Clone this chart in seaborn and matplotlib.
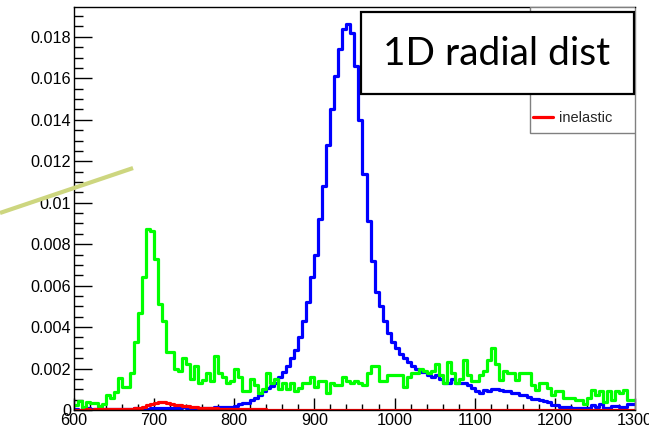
import numpy as np
import pandas as pd
import matplotlib
matplotlib.use("Agg")
import matplotlib.pyplot as plt
import seaborn as sns
from matplotlib.lines import Line2D
from matplotlib.patches import Rectangle
from matplotlib.ticker import MultipleLocator, FixedLocator, FixedFormatter

# bin edges: 600 .. 1300 in steps of 5
bin_edges = list(range(600, 1305, 5))

green_vals = [
    0.00024, 0.00045, 0.00016, 0.00037, 0.00032, 0.00032, 0.00021, 0.00027, 0.00072, 0.00056,
    0.00089, 0.00153, 0.0011, 0.0011, 0.0018, 0.0033, 0.00467, 0.0064, 0.00873, 0.00865,
    0.0073, 0.0051, 0.0043, 0.0028, 0.0028, 0.0020, 0.0019, 0.0025, 0.0022, 0.0015,
    0.0021, 0.0013, 0.00145, 0.0018, 0.0014, 0.0026, 0.0018, 0.0016, 0.0013, 0.0014,
    0.0020, 0.0016, 0.0009, 0.0009, 0.0015, 0.0012, 0.0008, 0.0010, 0.0018, 0.0013,
    0.0015, 0.0010, 0.0013, 0.0010, 0.0013, 0.0009, 0.00105, 0.0013, 0.0013, 0.0016,
    0.0011, 0.0014, 0.0014, 0.0008, 0.0013, 0.0012, 0.0012, 0.0016, 0.0014, 0.0013,
    0.0014, 0.0013, 0.0012, 0.0018, 0.0021, 0.0021, 0.0014, 0.0014, 0.0017, 0.0017,
    0.0017, 0.0017, 0.0011, 0.0016, 0.0018, 0.0018, 0.0020, 0.0019, 0.0018, 0.0019,
    0.0022, 0.0017, 0.0013, 0.0023, 0.0018, 0.0013, 0.0015, 0.0024, 0.0017, 0.0014,
    0.0014, 0.0017, 0.0019, 0.0024, 0.0030, 0.0022, 0.00145, 0.0019, 0.0018, 0.0018,
    0.00145, 0.0018, 0.0018, 0.0018, 0.0012, 0.00097, 0.0013, 0.0013, 0.00105, 0.0007,
    0.0009, 0.0009, 0.00056, 0.00056, 0.0006, 0.0005, 0.0005, 0.0003, 0.0006, 0.00097,
    0.0007, 0.0009, 0.0004, 0.00094, 0.0005, 0.00094, 0.0008, 0.00097, 0.0005, 0.0005,
]

blue_vals = [
    0.00003, 0.00002, 0.00005, 0.00008, 0.00006, 0.00004, 0.00008, 0.00005, 0.00003, 0.00004,
    0.00005, 0.00004, 0.00006, 0.00004, 0.00005, 0.00008, 0.00006, 0.00009, 0.00005, 0.00012,
    0.00010, 0.00008, 0.00010, 0.00012, 0.00008, 0.00010, 0.00012, 0.00013, 0.00010, 0.00012,
    0.00010, 0.00012, 0.00010, 0.00012, 0.00012, 0.00013, 0.00013, 0.00013, 0.00013, 0.00015,
    0.00018, 0.0003, 0.00035, 0.00035, 0.00048, 0.0006, 0.00072, 0.0009, 0.00105, 0.00116,
    0.0013, 0.0016, 0.00185, 0.0021, 0.0025, 0.0029, 0.0035, 0.0043, 0.0052, 0.0064,
    0.0075, 0.0092, 0.0108, 0.0128, 0.0145, 0.0161, 0.0174, 0.0184, 0.0186, 0.0182,
    0.0166, 0.0140, 0.0114, 0.0091, 0.0072, 0.0057, 0.0050, 0.0043, 0.0037, 0.0033,
    0.0030, 0.0027, 0.0025, 0.0023, 0.0021, 0.0020, 0.00185, 0.00185, 0.0017, 0.0016,
    0.0017, 0.0015, 0.0013, 0.0013, 0.0015, 0.0013, 0.0013, 0.0013, 0.0012, 0.00105,
    0.0009, 0.0008, 0.00097, 0.0009, 0.0010, 0.0010, 0.00095, 0.0009, 0.0009, 0.0008,
    0.0008, 0.0007, 0.0007, 0.00064, 0.00053, 0.00053, 0.00048, 0.00045, 0.0004, 0.00024,
    0.00024, 0.00016, 0.00016, 0.00016, 0.00011, 0.00011, 0.00011, 0.00011, 0.00011, 0.00024,
    0.00016, 0.0003, 0.00012, 0.00012, 0.0002, 0.0002, 0.00016, 0.00016, 0.0003, 0.0003,
]

red_vals = [
    0.00002, 0.00002, 0.00002, 0.00003, 0.00002, 0.00003, 0.00003, 0.00003, 0.00004, 0.00004,
    0.00004, 0.00005, 0.00005, 0.00006, 0.00007, 0.00009, 0.00012, 0.00016, 0.00022, 0.00028,
    0.00035, 0.0004, 0.0004, 0.00036, 0.0003, 0.00025, 0.00022, 0.0002, 0.00017, 0.00015,
    0.00013, 0.00012, 0.00011, 0.0001, 0.00009, 0.00008, 0.00007, 0.00006, 0.00006, 0.00005,
    0.00005, 0.00004, 0.00004, 0.00004, 0.00003, 0.00003, 0.00003, 0.00003, 0.00002, 0.00002,
    0.00002, 0.00002, 0.00002, 0.00002, 0.00002, 0.00001, 0.00001, 0.00001, 0.00001, 0.00001,
    0.00001, 0.00001, 0.00001, 0.00001, 0.00001, 0.00001, 0.00001, 0.00001, 0.00001, 0.00001,
    0.00001, 0.00001, 0.00001, 0.00001, 0.00001, 0.00001, 0.00001, 0.00001, 0.00001, 0.00001,
    0.00001, 0.00001, 0.00001, 0.00001, 0.00001, 0.00001, 0.00001, 0.00001, 0.00001, 0.00001,
    0.00001, 0.00001, 0.00001, 0.00001, 0.00001, 0.00001, 0.00001, 0.00001, 0.00001, 0.00001,
    0.00001, 0.00001, 0.00001, 0.00001, 0.00001, 0.00001, 0.00001, 0.00001, 0.00001, 0.00001,
    0.00001, 0.00001, 0.00001, 0.00001, 0.00001, 0.00001, 0.00001, 0.00001, 0.00001, 0.00001,
    0.00001, 0.00001, 0.00001, 0.00001, 0.00001, 0.00001, 0.00001, 0.00001, 0.00001, 0.00001,
    0.00001, 0.00001, 0.00001, 0.00001, 0.00001, 0.00001, 0.00001, 0.00001, 0.00001, 0.00001,
]

xtick_vals = [600, 700, 800, 900, 1000, 1100, 1200, 1300]
xtick_labels = ["600", "700", "800", "900", "1000", "1100", "1200", "1300"]
ytick_vals = [0, 0.002, 0.004, 0.006, 0.008, 0.010, 0.012, 0.014, 0.016, 0.018]
ytick_labels = ["0", "0.002", "0.004", "0.006", "0.008", "0.01", "0.012", "0.014", "0.016", "0.018"]
legend_label = "inelastic"
title_text = "1D radial dist"

sns.set_style("ticks")
plt.rcParams["font.family"] = ["Liberation Sans", "DejaVu Sans"]

centers = [e + 2.5 for e in bin_edges[:-1]]
data = pd.DataFrame({"r": centers, "blue": blue_vals, "green": green_vals, "red": red_vals})

fig = plt.figure(figsize=(6.49, 4.32), dpi=100)
ax = fig.add_axes([0.114, 0.0509, 0.8644, 0.9329])

for col, color in [("blue", "#0000ff"), ("green", "#00ff00"), ("red", "#ff0000")]:
    sns.histplot(data=data, x="r", weights=col, bins=bin_edges, element="step",
                 fill=False, color=color, linewidth=2.3, ax=ax)

ax.set_xlim(600, 1300)
ax.set_ylim(0, 0.01944)
ax.set_xlabel("")
ax.set_ylabel("")

ax.xaxis.set_major_locator(FixedLocator(xtick_vals))
ax.xaxis.set_major_formatter(FixedFormatter(xtick_labels))
ax.xaxis.set_minor_locator(MultipleLocator(20))
ax.yaxis.set_major_locator(FixedLocator(ytick_vals))
ax.yaxis.set_major_formatter(FixedFormatter(ytick_labels))
ax.yaxis.set_minor_locator(MultipleLocator(0.0005))

ax.tick_params(axis="both", which="both", direction="in", colors="black", labelsize=11.7, width=1)
ax.tick_params(axis="y", which="major", length=13, pad=2)
ax.tick_params(axis="y", which="minor", length=6.5)
ax.tick_params(axis="x", which="major", length=8.6, pad=2)
ax.tick_params(axis="x", which="minor", length=4.3)

for side in ["left", "bottom", "top"]:
    ax.spines[side].set_visible(True)
    ax.spines[side].set_color("black")
    ax.spines[side].set_linewidth(1)
ax.spines["right"].set_visible(True)
ax.spines["right"].set_color("#808080")
ax.spines["right"].set_linewidth(1)

# legend frame (partly hidden behind the title box)
ax.add_patch(Rectangle((0.813, 0.687), 0.187, 0.313, transform=ax.transAxes,
                       facecolor="white", edgecolor="#808080", linewidth=1, zorder=5))
handle = Line2D([], [], color="#ff0000", linewidth=2.3)
leg = ax.legend([handle], [legend_label], loc="center left", bbox_to_anchor=(0.815, 0.7246),
                frameon=False, fontsize=10.5, handlelength=1.4, handletextpad=0.4,
                borderpad=0.1, borderaxespad=0)
leg.set_zorder(6)

# title box
ax.add_patch(Rectangle((0.5116, 0.784), 0.4864, 0.2036, transform=ax.transAxes,
                       facecolor="white", edgecolor="black", linewidth=1.6, zorder=7))
ax.text(0.754, 0.884, title_text, transform=ax.transAxes, ha="center", va="center",
        fontsize=28, family=["Lato", "DejaVu Sans"], color="black", zorder=8)

# stray annotation stroke on the left
fig.add_artist(Line2D([0.0, 0.205], [0.507, 0.611], transform=fig.transFigure,
                      color="#cdd67f", linewidth=3, solid_capstyle="butt", zorder=10))

fig.savefig("out.png", dpi=100)
